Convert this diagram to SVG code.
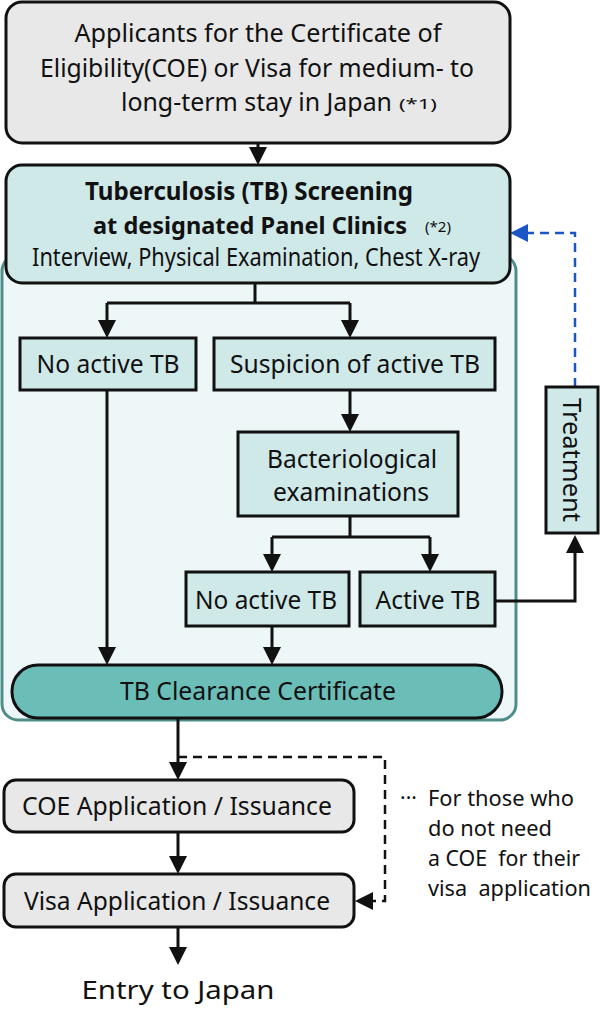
<svg xmlns="http://www.w3.org/2000/svg" width="600" height="1009" viewBox="0 0 600 1009">
<defs>
<style>
text{font-family:"Noto Sans","Liberation Sans",sans-serif;fill:#111;}
.t{font-size:25px;text-anchor:middle;}
.s{font-size:25px;}
.b{font-weight:bold;}
.sm{font-size:15px;font-weight:normal;}
.grey{fill:#e8e8e8;stroke:#111;stroke-width:3;}
.lt{fill:#cfe8e8;stroke:#111;stroke-width:3;}
.ln{fill:none;stroke:#111;stroke-width:3;}
.dash{fill:none;stroke:#111;stroke-width:2.5;stroke-dasharray:9 6;}
.blue{fill:none;stroke:#1a56c4;stroke-width:2.5;stroke-dasharray:9 6;}
.note{font-size:21px;}
</style>
<marker id="ah" markerUnits="userSpaceOnUse" markerWidth="18" markerHeight="18" refX="9" refY="9" orient="auto" viewBox="0 0 18 18">
<path d="M0,0 L18,9 L0,18 z" fill="#111"/>
</marker>
<marker id="ahb" markerUnits="userSpaceOnUse" markerWidth="18" markerHeight="18" refX="9" refY="9" orient="auto" viewBox="0 0 18 18">
<path d="M0,0 L18,9 L0,18 z" fill="#1a56c4"/>
</marker>
</defs>
<rect width="600" height="1009" fill="#fff"/>

<g id="container">
<rect x="2" y="255" width="514" height="465" rx="16" fill="#eef7f8" stroke="#4e8d89" stroke-width="3"/>
</g>

<g id="connectors">
<line class="ln" x1="258" y1="143" x2="258" y2="156" marker-end="url(#ah)"/>
<path class="ln" d="M255,283 V303 M107,303 H350"/>
<line class="ln" x1="107" y1="303" x2="107" y2="329" marker-end="url(#ah)"/>
<line class="ln" x1="350" y1="303" x2="350" y2="329" marker-end="url(#ah)"/>
<line class="ln" x1="350" y1="390" x2="350" y2="423" marker-end="url(#ah)"/>
<path class="ln" d="M350,516 V537 M272,537 H430"/>
<line class="ln" x1="272" y1="537" x2="272" y2="563" marker-end="url(#ah)"/>
<line class="ln" x1="430" y1="537" x2="430" y2="563" marker-end="url(#ah)"/>
<line class="ln" x1="107" y1="390" x2="107" y2="656" marker-end="url(#ah)"/>
<line class="ln" x1="272" y1="626" x2="272" y2="656" marker-end="url(#ah)"/>
<polyline class="ln" points="495,601 575,601 575,544" marker-end="url(#ah)"/>
<polyline class="blue" points="575,387 575,233 519,233" marker-end="url(#ahb)"/>
<line class="ln" x1="178" y1="718" x2="178" y2="771" marker-end="url(#ah)"/>
<polyline class="dash" points="178,757 385,757 385,901 364,901" marker-end="url(#ah)"/>
<line class="ln" x1="178" y1="832" x2="178" y2="865" marker-end="url(#ah)"/>
<line class="ln" x1="178" y1="927" x2="178" y2="956" marker-end="url(#ah)"/>
</g>

<g id="applicants">
<rect class="grey" x="6" y="2" width="504" height="141" rx="16"/>
<text class="t" x="258" y="42" textLength="367" lengthAdjust="spacingAndGlyphs">Applicants for the Certificate of</text>
<text class="t" x="257" y="77" textLength="434" lengthAdjust="spacingAndGlyphs">Eligibility(COE) or Visa for medium- to</text>
<text class="s" y="111"><tspan x="121" textLength="271" lengthAdjust="spacingAndGlyphs">long-term stay in Japan</tspan><tspan class="sm" x="399" y="109" textLength="38" lengthAdjust="spacingAndGlyphs">(*1)</tspan></text>
</g>

<g id="screening">
<rect class="lt" x="6" y="165" width="504" height="118" rx="16"/>
<text class="t b" x="249" y="200" textLength="328" lengthAdjust="spacingAndGlyphs">Tuberculosis (TB) Screening</text>
<text class="b" x="93" y="234" font-size="23" textLength="314" lengthAdjust="spacingAndGlyphs">at designated Panel Clinics</text>
<text class="sm" x="425" y="232" textLength="26" lengthAdjust="spacingAndGlyphs">(*2)</text>
<text class="t" x="256" y="266" font-size="23" textLength="448" lengthAdjust="spacingAndGlyphs">Interview, Physical Examination, Chest X-ray</text>
</g>

<g id="no-active-1">
<rect class="lt" x="20" y="338" width="176" height="52"/>
<text class="t" x="108" y="373" textLength="143" lengthAdjust="spacingAndGlyphs">No active TB</text>
</g>

<g id="suspicion">
<rect class="lt" x="214" y="338" width="281" height="52"/>
<text class="t" x="355" y="373" textLength="250" lengthAdjust="spacingAndGlyphs">Suspicion of active TB</text>
</g>

<g id="bacteriological">
<rect class="lt" x="238" y="432" width="220" height="84"/>
<text class="t" x="352" y="468" textLength="170" lengthAdjust="spacingAndGlyphs">Bacteriological</text>
<text class="t" x="351" y="501" textLength="156" lengthAdjust="spacingAndGlyphs">examinations</text>
</g>

<g id="no-active-2">
<rect class="lt" x="186" y="572" width="163" height="54"/>
<text class="t" x="266" y="609" textLength="142" lengthAdjust="spacingAndGlyphs">No active TB</text>
</g>

<g id="active">
<rect class="lt" x="360" y="572" width="135" height="54"/>
<text class="t" x="428" y="609" textLength="105" lengthAdjust="spacingAndGlyphs">Active TB</text>
</g>

<g id="treatment">
<rect class="lt" x="546" y="387" width="52" height="146"/>
<text class="t" transform="translate(572,460) rotate(90)" x="0" y="9" textLength="124" lengthAdjust="spacingAndGlyphs">Treatment</text>
</g>

<g id="clearance">
<rect x="12" y="665" width="490" height="53" rx="26" fill="#6bbdb8" stroke="#111" stroke-width="3"/>
<text class="t" x="258" y="700" textLength="276" lengthAdjust="spacingAndGlyphs">TB Clearance Certificate</text>
</g>

<g id="coe">
<rect class="grey" x="4" y="780" width="350" height="52" rx="12"/>
<text class="t" x="177" y="815" textLength="310" lengthAdjust="spacingAndGlyphs">COE Application / Issuance</text>
</g>

<g id="visa">
<rect class="grey" x="4" y="874" width="350" height="53" rx="12"/>
<text class="t" x="177" y="910" textLength="306" lengthAdjust="spacingAndGlyphs">Visa Application / Issuance</text>
</g>

<g id="entry">
<text class="t" x="178" y="999" font-size="30" textLength="193" lengthAdjust="spacingAndGlyphs">Entry to Japan</text>
</g>

<g id="note">
<text x="400" y="805" class="note">···</text>
<text x="428" y="806" class="note" textLength="146" lengthAdjust="spacingAndGlyphs">For those who</text>
<text x="428" y="836" class="note" textLength="124" lengthAdjust="spacingAndGlyphs">do not need</text>
<text x="428" y="866" class="note" textLength="152" lengthAdjust="spacingAndGlyphs" xml:space="preserve">a COE  for their</text>
<text x="428" y="896" class="note" textLength="163" lengthAdjust="spacingAndGlyphs" xml:space="preserve">visa  application</text>
</g>
</svg>
